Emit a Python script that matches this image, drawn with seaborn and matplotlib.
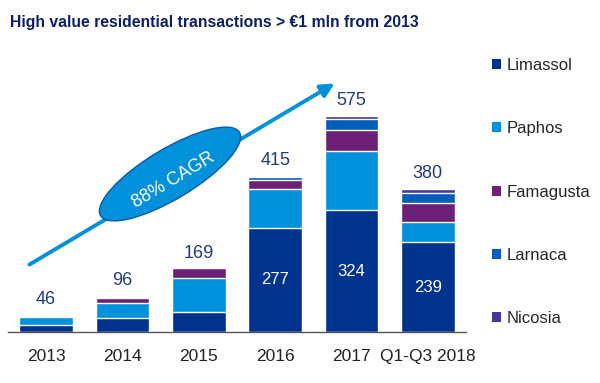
import numpy as np
import pandas as pd
import matplotlib
matplotlib.use('Agg')
import matplotlib.pyplot as plt
import seaborn as sns
from matplotlib.patches import Ellipse, Patch
from matplotlib.transforms import IdentityTransform

# data
years = ['2013', '2014', '2015', '2016', '2017', 'Q1-Q3 2018']
districts = ['Limassol', 'Paphos', 'Famagusta', 'Larnaca', 'Nicosia']
limassol = [18, 36, 53, 277, 324, 239]
paphos = [22, 40, 90, 103, 157, 54]
famagusta = [3, 14, 26, 24, 56, 50]
larnaca = [2, 4, 0, 7, 29, 26]
nicosia = [1, 2, 0, 4, 9, 11]
totals = [46, 96, 169, 415, 575, 380]
colors = ['#00338D', '#0091DA', '#6D2077', '#005EB8', '#483698']

sns.set_style('white')
plt.rcParams['font.family'] = ['Liberation Sans', 'DejaVu Sans']

df = pd.DataFrame({'year': years, 'Limassol': limassol, 'Paphos': paphos,
                   'Famagusta': famagusta, 'Larnaca': larnaca, 'Nicosia': nicosia})
cum = df[districts].cumsum(axis=1)

fig = plt.figure(figsize=(6, 3.83), dpi=100)
ax = fig.add_axes([8 / 600, 51 / 383, 458 / 600, 292 / 383])

# stacked bars: draw cumulative heights from the top layer down
for name, col in reversed(list(zip(districts, colors))):
    sns.barplot(x=df['year'], y=cum[name], color=col, width=0.7, saturation=1,
                edgecolor='white', linewidth=1, ax=ax, order=years)

ax.set_xlim(-0.5, 5.5)
ax.set_ylim(0, 292 / 0.376)
ax.set_xlabel('')
ax.set_ylabel('')
ax.set_yticks([])
for s in ['top', 'right', 'left']:
    ax.spines[s].set_visible(False)
ax.spines['bottom'].set_color('#555555')
ax.spines['bottom'].set_linewidth(1)
ax.set_xticks(np.arange(-0.5, 6, 1), minor=True)
ax.tick_params(axis='x', which='minor', length=6, width=1, color='#555555', direction='out')
ax.tick_params(axis='x', which='major', length=0, pad=12, labelsize=12.5, labelcolor='#222222')

# totals above bars and Limassol values inside the big bars
for i, t in enumerate(totals):
    ax.annotate(str(t), (i, t), xytext=(0, 5), textcoords='offset points',
                ha='center', va='bottom', fontsize=13, color='#233C7B')
for i in [3, 4, 5]:
    ax.text(i, limassol[i] / 2, str(limassol[i]), ha='center', va='center',
            fontsize=12, color='white')

# growth arrow with the CAGR bubble
ax.annotate('', xy=(337, 301), xytext=(27, 117), xycoords='figure pixels',
            textcoords='figure pixels', annotation_clip=False,
            arrowprops=dict(arrowstyle='-|>,head_length=0.8,head_width=0.4',
                            color='#0091DA', lw=2.8))
ell = Ellipse((170, 209), 162, 50, angle=31, transform=IdentityTransform(),
              facecolor='#0091DA', edgecolor='#0A5AA8', lw=1, clip_on=False, zorder=5)
ax.add_artist(ell)
fig.text(173 / 600, 203 / 383, '88% CAGR', rotation=31, ha='center', va='center',
         fontsize=13, color='white', zorder=6)

# title
fig.text(10 / 600, 360 / 383, 'High value residential transactions > €1 mln from 2013',
         fontsize=11.3, fontweight='bold', color='#0B1F65', va='center')

# legend
handles = [Patch(facecolor=c, edgecolor='none') for c in colors]
fig.legend(handles, districts, loc='center left', bbox_to_anchor=(492 / 600, 191 / 383),
           frameon=False, fontsize=12, labelspacing=2.9, handlelength=0.55,
           handleheight=0.55, handletextpad=0.35, borderpad=0, borderaxespad=0)

fig.savefig('out.png', dpi=100)
